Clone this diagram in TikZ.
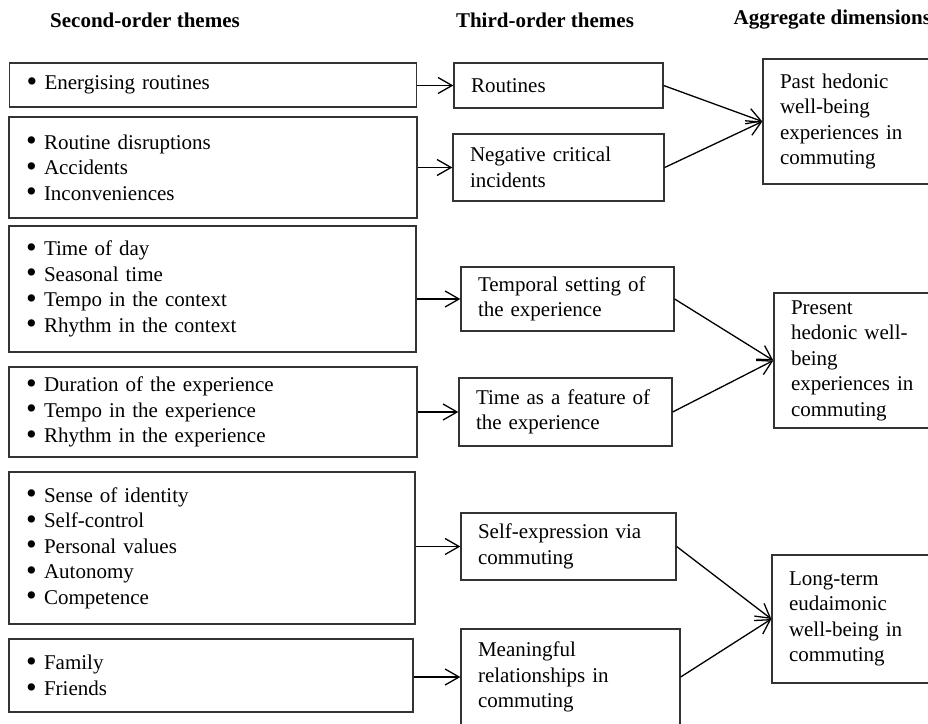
\documentclass[tikz,border=0pt]{standalone}
\usepackage{fontspec}
\setmainfont{Liberation Serif}
\usetikzlibrary{arrows.meta}
\newcommand{\bul}{\makebox[18pt][l]{\smash{\raisebox{-1.6pt}{\scalebox{1.45}{\textbullet}}}}}

\begin{document}
\begin{tikzpicture}
        [
            x = 1pt, y = -1pt, line width = 1.3pt,
            > = {Straight Barb[length=14pt, width=16pt]},
            box/.style = {rectangle, draw=black!80, align=left, inner xsep=17pt, inner ysep=0pt, font=\fontsize{21}{25.5}\selectfont},
            head/.style = {inner sep=0pt, font=\bfseries\fontsize{21}{25.5}\selectfont}
        ]
        \useasboundingbox (0,0) rectangle (928,723);
        \clip (0,0) rectangle (928,723);

        \node [head] at (145, 20) (head2) {Second-order themes};
        \node [head] at (545, 20) (head3) {Third-order themes};
        \node [head, anchor=west] at (733, 20) (headagg) {Aggregate dimensions};

        \node [box, text width=373pt, minimum height=44pt] at (213, 85) (sec1) {\bul Energising routines};
        \node [box, text width=374pt, minimum height=101pt] at (213, 167.5) (sec2) {\bul Routine disruptions\\\bul Accidents\\\bul Inconveniences};
        \node [box, text width=373pt, minimum height=126pt] at (212.5, 289) (sec3) {\bul Time of day\\\bul Seasonal time\\\bul Tempo in the context\\\bul Rhythm in the context};
        \node [box, text width=374pt, minimum height=90pt] at (213, 412) (sec4) {\bul Duration of the experience\\\bul Tempo in the experience\\\bul Rhythm in the experience};
        \node [box, text width=372pt, minimum height=152pt] at (212, 548) (sec5) {\bul Sense of identity\\\bul Self-control\\\bul Personal values\\\bul Autonomy\\\bul Competence};
        \node [box, text width=370pt, minimum height=73pt] at (211, 675.5) (sec6) {\bul Family\\\bul Friends};

        \node [box, text width=175pt, minimum height=45pt] at (558.5, 85.5) (thd1) {Routines};
        \node [box, text width=177pt, minimum height=67pt] at (558.5, 167.5) (thd2) {Negative critical\\incidents};
        \node [box, text width=179pt, minimum height=64pt] at (567.5, 299) (thd3) {Temporal setting of\\the experience};
        \node [box, text width=179pt, minimum height=68pt] at (565.5, 412) (thd4) {Time as a feature of\\the experience};
        \node [box, text width=181pt, minimum height=67pt] at (568.5, 546.5) (thd5) {Self-expression via\\commuting};
        \node [box, text width=185pt, minimum height=96pt] at (570.5, 677) (thd6) {Meaningful\\relationships in\\commuting};

        \node [box, text width=150pt, minimum height=125pt] at (855, 121.5) (agg1) {Past hedonic\\well-being\\experiences in\\commuting};
        \node [box, text width=150pt, minimum height=135pt] at (866, 360.5) (agg2) {Present\\hedonic well-\\being\\experiences in\\commuting};
        \node [box, text width=150pt, minimum height=128pt] at (864, 619) (agg3) {Long-term\\eudaimonic\\well-being in\\commuting};

        \draw[->] (sec1.east |- thd1.west) -- (thd1.west);
        \draw[->] (sec2.east |- thd2.west) -- (thd2.west);
        \draw[->] (sec3.east |- thd3.west) -- (thd3.west);
        \draw[->] (sec4.east |- thd4.west) -- (thd4.west);
        \draw[->] (sec5.east |- thd5.west) -- (thd5.west);
        \draw[->] (sec6.east |- thd6.west) -- (thd6.west);

        \draw[->] (thd1.east) -- (agg1.west);
        \draw[->] (thd2.east) -- (agg1.west);
        \draw[->] (thd3.east) -- (agg2.west);
        \draw[->] (thd4.east) -- (agg2.west);
        \draw[->] (thd5.east) -- (agg3.west);
        \draw[->] (thd6.east) -- (agg3.west);
    \end{tikzpicture}
\end{document}
